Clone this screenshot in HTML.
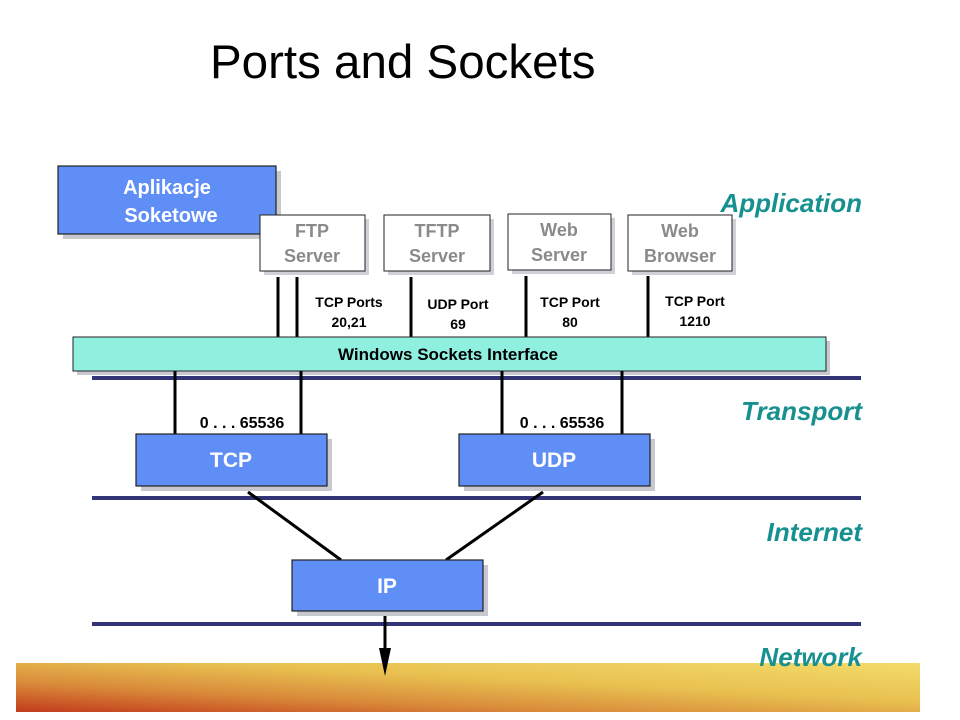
<!DOCTYPE html>
<html><head><meta charset="utf-8"><style>
html,body{margin:0;padding:0;background:#fff;width:960px;height:720px;overflow:hidden}
svg{display:block}
text{font-family:"Liberation Sans",Arial,sans-serif}
</style></head><body>
<svg width="960" height="720" viewBox="0 0 960 720" xmlns="http://www.w3.org/2000/svg">
<defs>
<linearGradient id="band" x1="0" y1="1" x2="1" y2="0">
<stop offset="0" stop-color="#c23a1c"/>
<stop offset="0.3" stop-color="#d98a3a"/>
<stop offset="0.6" stop-color="#e8c050"/>
<stop offset="1" stop-color="#f3dc6a"/>
</linearGradient>
</defs>
<text x="210" y="78" font-size="47.5" fill="#000">Ports and Sockets</text>

<rect x="16" y="663" width="904" height="49" fill="url(#band)"/>

<rect x="63" y="171" width="218" height="68" fill="#c8c8d0"/>
<rect x="58" y="166" width="218" height="68" fill="#5f8ef7" stroke="#222" stroke-width="1.2"/>
<text x="167" y="194" font-size="20" font-weight="bold" fill="#fff" text-anchor="middle">Aplikacje</text>
<text x="171" y="222" font-size="20" font-weight="bold" fill="#fff" text-anchor="middle">Soketowe</text>

<g font-size="18" font-weight="bold" fill="#8a8a8a" text-anchor="middle">
<rect x="264" y="219" width="105" height="56" fill="#d0d0d8"/>
<rect x="260" y="215" width="105" height="56" fill="#fff" stroke="#222"/>
<text x="312" y="237">FTP</text><text x="312" y="262">Server</text>
<rect x="388" y="219" width="106" height="56" fill="#d0d0d8"/>
<rect x="384" y="215" width="106" height="56" fill="#fff" stroke="#222"/>
<text x="437" y="237">TFTP</text><text x="437" y="262">Server</text>
<rect x="512" y="218" width="103" height="56" fill="#d0d0d8"/>
<rect x="508" y="214" width="103" height="56" fill="#fff" stroke="#222"/>
<text x="559" y="236">Web</text><text x="559" y="261">Server</text>
<rect x="632" y="219" width="104" height="56" fill="#d0d0d8"/>
<rect x="628" y="215" width="104" height="56" fill="#fff" stroke="#222"/>
<text x="680" y="237">Web</text><text x="680" y="262">Browser</text>
</g>

<g stroke="#000" stroke-width="3">
<line x1="278" y1="277" x2="278" y2="337"/>
<line x1="297" y1="277" x2="297" y2="337"/>
<line x1="411" y1="277" x2="411" y2="337"/>
<line x1="526" y1="276" x2="526" y2="337"/>
<line x1="648" y1="276" x2="648" y2="337"/>
</g>
<g font-size="14" font-weight="bold" fill="#000" text-anchor="middle">
<text x="349" y="307">TCP Ports</text><text x="349" y="327">20,21</text>
<text x="458" y="309">UDP Port</text><text x="458" y="329">69</text>
<text x="570" y="307">TCP Port</text><text x="570" y="327">80</text>
<text x="695" y="306">TCP Port</text><text x="695" y="326">1210</text>
</g>

<g fill="#333377">
<rect x="92" y="376" width="769" height="4"/>
<rect x="92" y="496" width="769" height="4"/>
<rect x="92" y="622" width="769" height="4"/>
</g>

<rect x="77" y="341" width="753" height="34" fill="#c8c8d0"/>
<rect x="73" y="337" width="753" height="34" fill="#90f0e0" stroke="#222"/>
<text x="448" y="360" font-size="17" font-weight="bold" fill="#000" text-anchor="middle">Windows Sockets Interface</text>

<g stroke="#000" stroke-width="3">
<line x1="175" y1="371" x2="175" y2="434"/>
<line x1="301" y1="371" x2="301" y2="434"/>
<line x1="502" y1="371" x2="502" y2="434"/>
<line x1="622" y1="371" x2="622" y2="434"/>
</g>
<g font-size="16" font-weight="bold" fill="#000" text-anchor="middle">
<text x="242" y="428">0 . . . 65536</text>
<text x="562" y="428">0 . . . 65536</text>
</g>

<g stroke="#000" stroke-width="3">
<line x1="248" y1="492" x2="341" y2="560"/>
<line x1="543" y1="492" x2="446" y2="560"/>
<line x1="385" y1="611" x2="385" y2="650"/>
</g>
<polygon points="379,648 391,648 385,676" fill="#000"/>

<rect x="141" y="439" width="191" height="52" fill="#c8c8d0"/>
<rect x="136" y="434" width="191" height="52" fill="#5f8ef7" stroke="#222" stroke-width="1.2"/>
<text x="231" y="467" font-size="21" font-weight="bold" fill="#fff" text-anchor="middle">TCP</text>
<rect x="464" y="439" width="191" height="52" fill="#c8c8d0"/>
<rect x="459" y="434" width="191" height="52" fill="#5f8ef7" stroke="#222" stroke-width="1.2"/>
<text x="554" y="467" font-size="21" font-weight="bold" fill="#fff" text-anchor="middle">UDP</text>
<rect x="297" y="565" width="191" height="51" fill="#c8c8d0"/>
<rect x="292" y="560" width="191" height="51" fill="#5f8ef7" stroke="#222" stroke-width="1.2"/>
<text x="387" y="593" font-size="21" font-weight="bold" fill="#fff" text-anchor="middle">IP</text>

<g font-size="26" font-weight="bold" font-style="italic" fill="#17918f" text-anchor="end">
<text x="862" y="212">Application</text>
<text x="862" y="420">Transport</text>
<text x="862" y="541">Internet</text>
<text x="862" y="666">Network</text>
</g>
</svg>
</body></html>
